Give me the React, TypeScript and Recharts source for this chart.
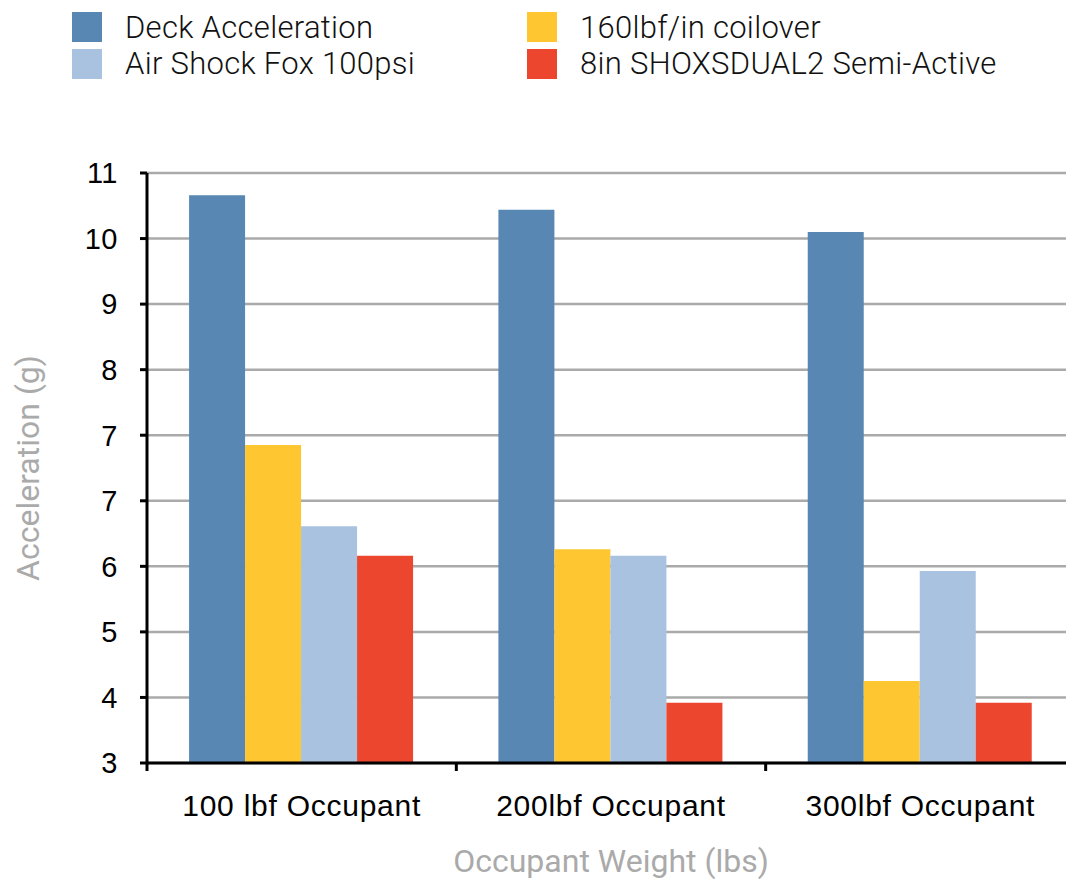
import { Bar, BarChart, CartesianGrid, XAxis, YAxis } from "recharts";

const categories = ["100 lbf Occupant", "200lbf Occupant", "300lbf Occupant"];
const deckAcceleration = [11.66, 11.44, 11.1];
const coilover160 = [7.85, 6.26, 4.25];
const airShockFox = [6.61, 6.16, 5.93];
const shoxsDual2 = [6.16, 3.92, 3.92];

// the source chart labels its evenly spaced gridlines like this (note the repeated 7)
const yTickValues = [3, 4, 5, 6, 7, 8, 9, 10, 11, 12];
const yTickLabels = ["3", "4", "5", "6", "7", "7", "8", "9", "10", "11"];

const series = [
  { key: "deck", name: "Deck Acceleration", color: "#5987b3" },
  { key: "coil", name: "160lbf/in coilover", color: "#fec630" },
  { key: "air", name: "Air Shock Fox 100psi", color: "#a8c2df" },
  { key: "shox", name: "8in SHOXSDUAL2 Semi-Active", color: "#ec462e" },
];

const data = categories.map((c, i) => ({
  name: c,
  deck: deckAcceleration[i],
  coil: coilover160[i],
  air: airShockFox[i],
  shox: shoxsDual2[i],
}));

const CHART_W = 1075;
const CHART_H = 880;
const PLOT_LEFT = 147;
const BAND = (CHART_W - PLOT_LEFT) / categories.length;

const tickFont = '"Liberation Sans", Arial, sans-serif';
const titleFont = 'Roboto, "Noto Sans", sans-serif';

function XTick(props: any) {
  const { x, y, payload } = props;
  const bx = x - BAND / 2;
  return (
    <g>
      <line x1={bx} y1={y} x2={bx} y2={y + 8} stroke="#000" strokeWidth={3} />
      <text
        x={x}
        y={y + 53}
        textAnchor="middle"
        fill="#000"
        fontSize={30}
        letterSpacing={0.75}
        fontFamily={tickFont}
      >
        {payload.value}
      </text>
    </g>
  );
}

function LegendBox() {
  const order = [
    [series[0], series[1]],
    [series[2], series[3]],
  ];
  const cols = [72, 527];
  const boxTop = [12, 49];
  const textTop = [9, 45];
  return (
    <div style={{ position: "absolute", left: 0, top: 0, width: 1066, height: 100 }}>
      {order.map((row, r) =>
        row.map((s, c) => (
          <div key={s.key}>
            <div
              style={{
                position: "absolute",
                left: cols[c],
                top: boxTop[r],
                width: 30,
                height: 30,
                background: s.color,
              }}
            />
            <div
              style={{
                position: "absolute",
                left: cols[c] + 53,
                top: textTop[r],
                whiteSpace: "nowrap",
                fontFamily: titleFont,
                fontWeight: 300,
                fontSize: 31,
                letterSpacing: 0.3,
                lineHeight: "38px",
                color: "#111",
              }}
            >
              {s.name}
            </div>
          </div>
        ))
      )}
    </div>
  );
}

export default function App() {
  return (
    <div
      style={{
        position: "absolute",
        left: 0,
        top: 0,
        width: 1066,
        height: CHART_H,
        overflow: "hidden",
        background: "#fff",
      }}
    >
      <LegendBox />
      <BarChart
        width={CHART_W}
        height={CHART_H}
        data={data}
        margin={{ top: 173, right: 0, left: 0, bottom: 0 }}
        barCategoryGap="13.6%"
        barGap={0}
      >
        <CartesianGrid vertical={false} stroke="#aaa" strokeWidth={2.5} />
        <XAxis
          dataKey="name"
          height={CHART_H - 763}
          axisLine={{ stroke: "#000", strokeWidth: 3 }}
          tickLine={false}
          tickSize={0}
          tickMargin={0}
          tick={<XTick />}
          interval={0}
          label={{
            value: "Occupant Weight (lbs)",
            position: "insideBottom",
            offset: 8,
            style: { fill: "#aaa", fontSize: 32, fontFamily: titleFont },
          }}
        />
        <YAxis
          width={PLOT_LEFT}
          domain={[3, 12]}
          ticks={yTickValues}
          interval={0}
          allowDataOverflow
          tickFormatter={(v: number) => yTickLabels[yTickValues.indexOf(v)] ?? ""}
          axisLine={{ stroke: "#000", strokeWidth: 3 }}
          tickLine={{ stroke: "#000", strokeWidth: 3 }}
          tickSize={7}
          tickMargin={22}
          tick={{ fill: "#000", fontSize: 29, fontFamily: tickFont, letterSpacing: 0.5 }}
          label={{
            value: "Acceleration (g)",
            angle: -90,
            position: "insideLeft",
            offset: 28,
            style: { fill: "#aaa", fontSize: 32, fontFamily: titleFont, textAnchor: "middle" },
          }}
        />
        {series.map((s) => (
          <Bar
            key={s.key}
            dataKey={s.key}
            name={s.name}
            fill={s.color}
            isAnimationActive={false}
          />
        ))}
      </BarChart>
    </div>
  );
}
